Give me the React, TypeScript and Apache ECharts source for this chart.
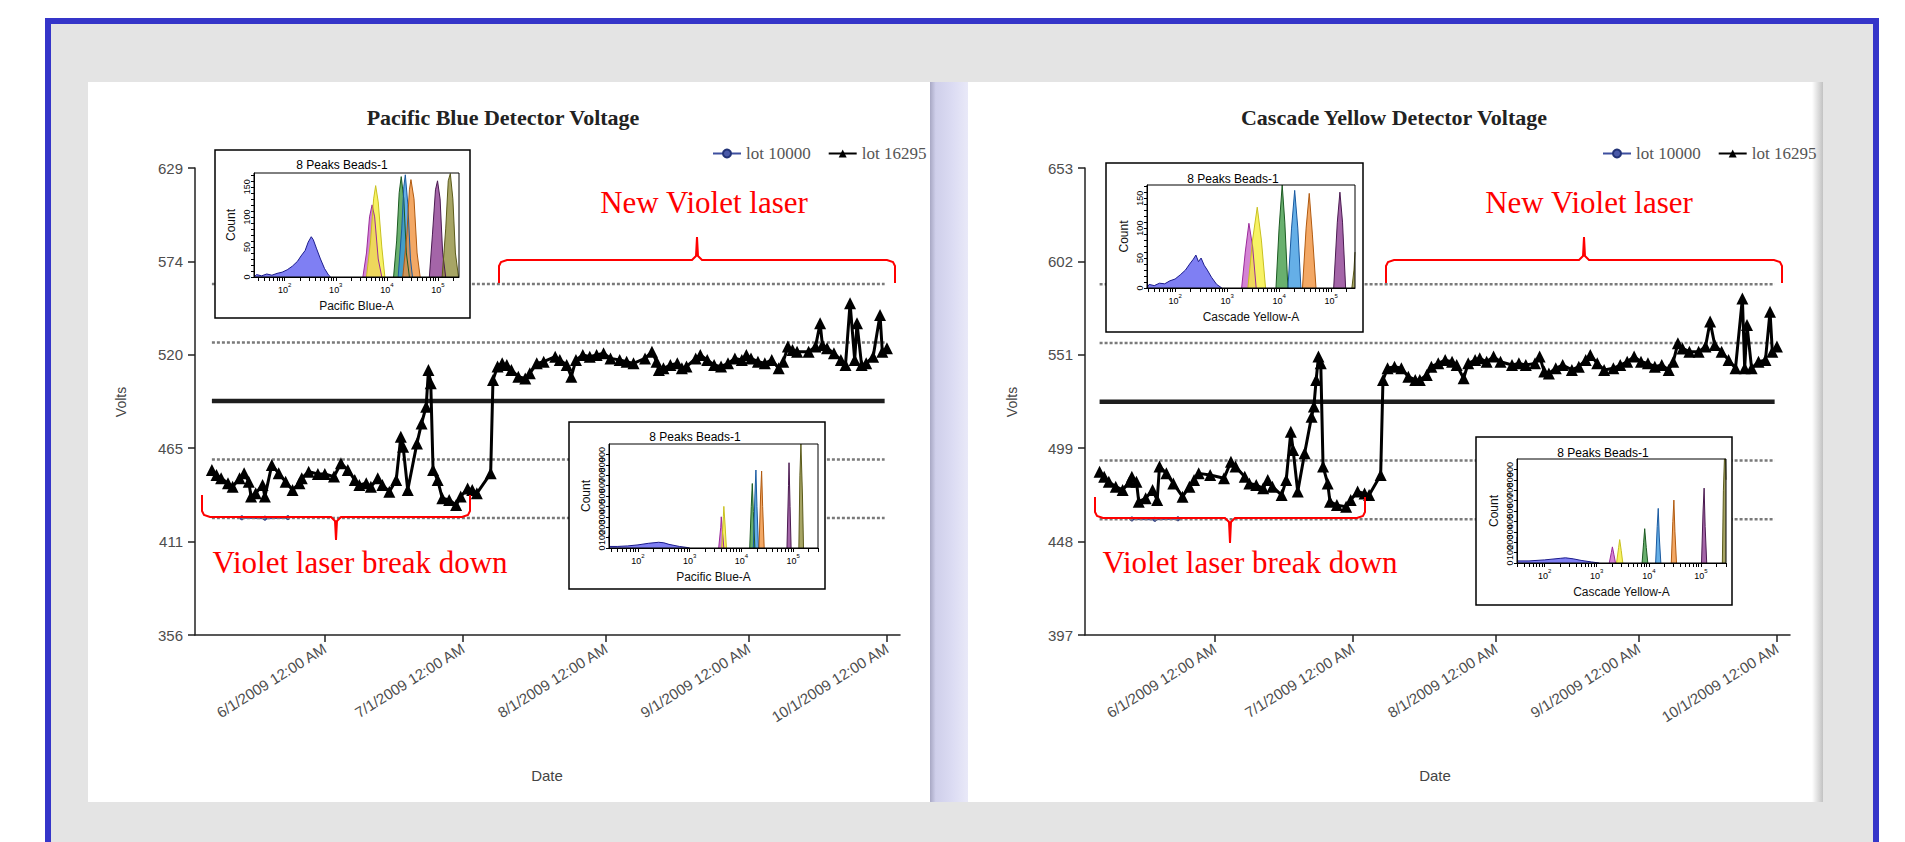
import React, { useEffect, useRef } from 'react';
import * as echarts from 'echarts';

// ---------- main series (dates are "MM-DD HH" in 2009) ----------
const pbDates = [
  '05-07 12', '05-08 12', '05-09 12', '05-11 00', '05-12 00', '05-13 12', '05-14 12', '05-15 12', '05-16 00', '05-17 00',
  '05-18 12', '05-19 00', '05-20 12', '05-22 00', '05-23 12', '05-25 00', '05-26 12', '05-27 00', '05-28 12', '05-30 12',
  '06-01 00', '06-03 00', '06-04 12', '06-06 00', '06-07 12', '06-08 12', '06-10 00', '06-11 00', '06-12 12', '06-13 12',
  '06-15 00', '06-16 12', '06-17 12', '06-18 00', '06-19 00', '06-21 00', '06-22 00', '06-23 00', '06-23 12', '06-24 00',
  '06-24 12', '06-25 12', '06-26 12', '06-28 00', '06-29 12', '06-30 12', '07-02 00', '07-03 00', '07-04 00', '07-07 00',
  '07-07 12', '07-08 12', '07-09 12', '07-10 12', '07-11 12', '07-13 00', '07-14 12', '07-15 12', '07-17 00', '07-18 12',
  '07-21 00', '07-22 00', '07-23 12', '07-24 12', '07-25 12', '07-27 00', '07-28 12', '07-30 00', '07-31 12', '08-02 00',
  '08-04 00', '08-05 12', '08-07 00', '08-09 12', '08-11 00', '08-12 00', '08-12 12', '08-13 12', '08-15 00', '08-16 12',
  '08-17 12', '08-18 12', '08-20 12', '08-21 12', '08-23 00', '08-24 12', '08-26 00', '08-27 12', '08-29 00', '08-30 12',
  '08-31 12', '09-01 12', '09-03 00', '09-04 12', '09-06 00', '09-07 12', '09-08 12', '09-09 12', '09-10 12', '09-11 12',
  '09-14 00', '09-15 12', '09-16 12', '09-17 00', '09-18 00', '09-19 12', '09-21 00', '09-22 00', '09-23 00', '09-24 00',
  '09-24 12', '09-25 12', '09-26 12', '09-28 00', '09-29 12', '09-30 00', '10-01 00',
];
const pbVolts = [
  452.5, 449.5, 447.6, 444.7, 442.7, 447.6, 450.5, 445.6, 436.9, 438.8,
  443.7, 436.9, 455.4, 450.5, 445.6, 440.8, 444.7, 447.6, 451.5, 450.1,
  450.1, 448.6, 456.4, 452.5, 446.6, 443.7, 444.7, 442.7, 447.6, 443.7,
  439.8, 446.6, 471.9, 466.1, 440.8, 468.0, 479.7, 489.5, 510.9, 503.1,
  452.5, 446.6, 435.9, 434.9, 432.0, 436.9, 441.7, 440.8, 438.8, 450.5,
  505.1, 512.9, 514.8, 513.8, 510.9, 507.0, 506.0, 509.0, 514.8, 515.8,
  518.7, 516.8, 513.8, 507.0, 516.8, 519.7, 518.7, 519.7, 520.7, 517.7,
  516.8, 515.8, 514.8, 517.7, 521.6, 515.8, 510.9, 511.9, 513.8, 514.8,
  511.9, 512.9, 517.7, 519.7, 516.8, 513.8, 512.9, 514.8, 517.7, 516.8,
  519.7, 517.7, 515.8, 514.8, 516.8, 511.9, 515.8, 524.6, 522.6, 521.6,
  521.6, 524.6, 538.2, 525.5, 523.6, 520.7, 516.8, 513.8, 549.9, 516.8,
  538.2, 513.8, 514.8, 518.7, 543.1, 521.6, 523.6,
];
const cyDates = [
  '05-07 00', '05-08 00', '05-09 00', '05-10 12', '05-12 00', '05-13 12', '05-14 00', '05-15 00', '05-15 12', '05-17 00',
  '05-18 12', '05-19 12', '05-20 00', '05-21 12', '05-23 00', '05-25 00', '05-26 12', '05-27 12', '05-28 12', '05-31 00',
  '06-03 00', '06-04 12', '06-05 12', '06-07 12', '06-08 12', '06-10 00', '06-11 12', '06-12 12', '06-13 12', '06-15 12',
  '06-16 12', '06-17 12', '06-18 00', '06-19 00', '06-20 12', '06-22 00', '06-22 12', '06-23 00', '06-23 12', '06-24 00',
  '06-24 12', '06-25 12', '06-26 00', '06-27 12', '06-29 12', '06-30 12', '07-02 00', '07-03 12', '07-04 12', '07-07 00',
  '07-07 12', '07-08 12', '07-10 00', '07-11 12', '07-13 00', '07-14 12', '07-15 12', '07-17 00', '07-18 00', '07-19 12',
  '07-21 00', '07-22 12', '07-23 12', '07-25 00', '07-26 00', '07-27 12', '07-28 12', '07-30 00', '07-31 12', '08-02 00',
  '08-04 12', '08-06 00', '08-07 12', '08-09 12', '08-10 12', '08-11 12', '08-12 12', '08-14 00', '08-15 12', '08-17 12',
  '08-19 00', '08-20 12', '08-21 12', '08-23 00', '08-24 12', '08-26 12', '08-28 00', '08-29 12', '08-31 00', '09-01 12',
  '09-03 00', '09-04 12', '09-06 00', '09-07 12', '09-08 12', '09-09 12', '09-10 12', '09-12 00', '09-14 00', '09-15 12',
  '09-16 12', '09-17 12', '09-19 00', '09-20 12', '09-22 00', '09-23 12', '09-24 00', '09-24 12', '09-25 12', '09-27 00',
  '09-28 12', '09-29 12', '09-30 00', '10-01 00',
];
const cyVolts = [
  486.5, 483.8, 481.0, 478.3, 476.5, 481.0, 483.8, 481.0, 470.1, 471.9,
  476.5, 471.0, 489.3, 485.6, 480.1, 472.8, 478.3, 481.9, 485.6, 484.7,
  482.9, 492.0, 489.3, 483.8, 480.1, 479.2, 477.4, 481.9, 478.3, 473.7,
  481.9, 508.4, 498.4, 475.6, 496.6, 516.7, 522.2, 536.8, 549.6, 545.9,
  489.3, 480.1, 470.1, 468.2, 467.3, 471.0, 475.6, 474.6, 473.7, 484.7,
  536.8, 543.2, 544.1, 543.2, 538.6, 536.8, 536.8, 539.5, 544.1, 545.9,
  547.7, 546.8, 545.0, 537.7, 545.9, 547.7, 548.7, 546.8, 549.6, 546.8,
  545.0, 545.9, 545.0, 545.9, 549.6, 541.4, 540.4, 543.2, 545.0, 542.3,
  544.1, 547.7, 550.5, 545.9, 542.3, 543.2, 545.0, 546.8, 549.6, 546.8,
  545.9, 544.1, 545.0, 542.3, 546.8, 556.9, 554.1, 552.3, 552.3, 555.1,
  568.8, 556.0, 552.3, 547.7, 543.2, 581.5, 543.2, 566.9, 543.2, 546.8,
  547.7, 574.2, 552.3, 555.1,
];
const lot10000Dates = ['05-14 00', '05-19 00', '05-24 00'];
const pbLot10000Volts = [424.5, 424.3, 424.6];
const cyLot10000Volts = [460.6, 460.4, 460.7];

// control limits (mean and +/-1, +/-2 SD)
const pbMean = 492.8;
const pbLimits = [424.4, 458.6, 527.0, 561.2];
const cyMean = 524.9;
const cyLimits = [460.5, 492.7, 557.1, 589.3];
const limitSpan = { pb: ['05-07 12', '09-30 12'], cy: ['05-07 00', '09-30 12'] };

// axes
const pbYTicks = [356, 410.6, 465.2, 519.8, 574.4, 629];
const cyYTicks = [397, 448.2, 499.4, 550.6, 601.8, 653];
const monthTicks = ['06-01 00', '07-01 00', '08-01 00', '09-01 00', '10-01 00'];
const axisStart = '05-03 20';
const axisEnd = '10-03 20';

// ---------- inset histograms: [log10(intensity), count] ----------
const peakFill = ['#5b5bf0', '#c860c8', '#f5ee3a', '#3f9a45', '#3a98e0', '#f0903a', '#8b3a8f', '#8e8c3a'];
const peakLine = ['#1c1c8c', '#9a2a9a', '#c8c020', '#1c5a22', '#1a5aa0', '#b05a10', '#4a1a50', '#5a5a1a'];

const pbTopPeaks: number[][][] = [
  [[1.4, 0], [1.45, 4], [1.55, 2], [1.65, 5], [1.75, 3], [1.85, 6], [1.95, 8], [2.05, 12], [2.15, 18], [2.25, 26], [2.32, 35], [2.4, 44], [2.46, 58], [2.52, 67], [2.56, 62], [2.62, 48], [2.7, 30], [2.78, 14], [2.86, 3], [2.9, 0]],
  [[3.53, 0], [3.6, 40], [3.66, 100], [3.71, 120], [3.76, 100], [3.83, 30], [3.9, 0]],
  [[3.6, 0], [3.68, 60], [3.74, 130], [3.78, 152], [3.83, 125], [3.9, 50], [3.96, 0]],
  [[4.13, 0], [4.19, 60], [4.24, 140], [4.28, 167], [4.33, 130], [4.38, 40], [4.44, 0]],
  [[4.22, 0], [4.29, 80], [4.33, 150], [4.36, 170], [4.41, 120], [4.46, 30], [4.5, 0]],
  [[4.31, 0], [4.39, 70], [4.44, 145], [4.47, 162], [4.53, 130], [4.59, 40], [4.65, 0]],
  [[4.83, 0], [4.89, 70], [4.95, 145], [4.99, 160], [5.04, 130], [5.09, 40], [5.15, 0]],
  [[5.08, 0], [5.15, 80], [5.2, 160], [5.24, 172], [5.29, 130], [5.34, 40], [5.4, 0]],
];
const pbBottomPeaks: number[][][] = [
  [[1.44, 120], [1.45, 15], [1.6, 15], [1.8, 20], [2.0, 30], [2.2, 45], [2.4, 55], [2.5, 50], [2.6, 35], [2.8, 15], [2.95, 5], [3.0, 0]],
  [[3.56, 0], [3.6, 200], [3.61, 300], [3.63, 180], [3.66, 0]],
  [[3.62, 0], [3.65, 300], [3.66, 400], [3.68, 250], [3.71, 0]],
  [[4.16, 0], [4.19, 400], [4.21, 620], [4.23, 350], [4.26, 0]],
  [[4.23, 0], [4.26, 500], [4.28, 750], [4.3, 400], [4.33, 0]],
  [[4.34, 0], [4.37, 500], [4.39, 740], [4.41, 400], [4.44, 0]],
  [[4.88, 0], [4.91, 600], [4.92, 820], [4.94, 400], [4.96, 0]],
  [[5.11, 0], [5.13, 700], [5.15, 1000], [5.16, 1000], [5.18, 500], [5.2, 0]],
];
const cyTopPeaks: number[][][] = [
  [[1.46, 0], [1.5, 6], [1.6, 4], [1.7, 8], [1.8, 7], [1.9, 12], [2.0, 15], [2.1, 22], [2.2, 30], [2.28, 40], [2.35, 48], [2.4, 55], [2.45, 44], [2.5, 50], [2.56, 38], [2.62, 30], [2.7, 18], [2.8, 6], [2.9, 0]],
  [[3.28, 0], [3.35, 60], [3.42, 108], [3.49, 70], [3.56, 0]],
  [[3.4, 0], [3.49, 80], [3.58, 135], [3.66, 80], [3.74, 0]],
  [[3.94, 0], [4.0, 100], [4.06, 172], [4.11, 110], [4.17, 0]],
  [[4.17, 0], [4.24, 100], [4.3, 163], [4.36, 100], [4.42, 0]],
  [[4.45, 0], [4.52, 100], [4.58, 158], [4.64, 90], [4.71, 0]],
  [[5.05, 0], [5.12, 110], [5.17, 160], [5.22, 110], [5.28, 0]],
  [[5.4, 0], [5.44, 30], [5.46, 60]],
];
const cyBottomPeaks: number[][][] = [
  [[1.47, 250], [1.48, 20], [1.7, 20], [2.0, 30], [2.3, 45], [2.4, 50], [2.55, 40], [2.7, 25], [2.9, 10], [3.05, 0]],
  [[3.24, 0], [3.28, 100], [3.3, 155], [3.33, 80], [3.36, 0]],
  [[3.38, 0], [3.42, 150], [3.44, 225], [3.47, 120], [3.5, 0]],
  [[3.87, 0], [3.9, 200], [3.92, 330], [3.95, 150], [3.98, 0]],
  [[4.13, 0], [4.16, 350], [4.18, 525], [4.2, 250], [4.23, 0]],
  [[4.43, 0], [4.46, 400], [4.48, 605], [4.5, 300], [4.53, 0]],
  [[5.01, 0], [5.04, 500], [5.06, 720], [5.08, 350], [5.11, 0]],
  [[5.41, 0], [5.43, 700], [5.45, 1000], [5.47, 1000], [5.48, 800]],
];
const countTicksSmall = [0, 10, 20, 30, 40, 50, 60, 70, 80, 90, 100, 110, 120, 130, 140, 150, 160, 170];
const countLabelsSmall = [0, 50, 100, 150];
const countLabelsLarge = [0, 100, 200, 300, 400, 500, 600, 700, 800, 900, 1000];

// ---------- helpers ----------
const ts = (s: string) => {
  const [md, h] = s.split(' ');
  const [m, d] = md.split('-').map(Number);
  return new Date(2009, m - 1, d, Number(h)).getTime();
};
const logTicks = (min: number, max: number) => {
  const out: number[] = [];
  for (let e = 1; e <= 5; e++) for (let k = 1; k <= 9; k++) {
    const v = e + Math.log10(k);
    if (v >= min && v <= max) out.push(v);
  }
  return out;
};
const SANS = 'Liberation Sans, Arial, sans-serif';
const SERIF = 'Liberation Serif, Times New Roman, serif';

function buildOption() {
  const G = echarts.graphic;
  const monthTs = monthTicks.map(ts);

  const mainX = (gi: number) => ({
    gridIndex: gi, type: 'value', min: ts(axisStart), max: ts(axisEnd),
    axisLine: { show: true, onZero: false, lineStyle: { color: '#222', width: 1.5 } },
    axisTick: { show: true, length: 7, customValues: monthTs, lineStyle: { color: '#222', width: 1.5 } },
    axisLabel: {
      customValues: monthTs, rotate: 32, margin: 12, fontSize: 15, color: '#4d4d4d', fontFamily: SANS,
      formatter: (v: number) => { const d = new Date(v); return `${d.getMonth() + 1}/${d.getDate()}/${d.getFullYear()} 12:00 AM`; },
    },
    splitLine: { show: false },
  });
  const mainY = (gi: number, ticks: number[]) => ({
    gridIndex: gi, type: 'value', min: ticks[0], max: ticks[ticks.length - 1],
    axisLine: { show: true, onZero: false, lineStyle: { color: '#222', width: 1.5 } },
    axisTick: { show: true, length: 7, customValues: ticks, lineStyle: { color: '#222', width: 1.5 } },
    axisLabel: { customValues: ticks, margin: 12, fontSize: 15, color: '#4d4d4d', fontFamily: SANS, formatter: (v: number) => String(Math.round(v)) },
    splitLine: { show: false },
  });
  const insetX = (gi: number, min: number, max: number, name: string) => ({
    gridIndex: gi, type: 'value', min, max, z: 12,
    axisLine: { show: true, onZero: false, lineStyle: { color: '#000', width: 1 } },
    axisTick: { show: true, length: 4, customValues: logTicks(min, max), lineStyle: { color: '#000', width: 1 } },
    axisLabel: {
      customValues: [2, 3, 4, 5], margin: 5, color: '#000',
      formatter: (v: number) => `{b|10}{s|${Math.round(v)}}`,
      rich: {
        b: { fontSize: 9, fontFamily: SANS, color: '#000', verticalAlign: 'bottom' },
        s: { fontSize: 6, fontFamily: SANS, color: '#000', verticalAlign: 'bottom', padding: [0, 0, 6, 0] },
      },
    },
    splitLine: { show: false },
    name, nameLocation: 'middle', nameGap: 23, nameTextStyle: { fontSize: 12, color: '#111', fontFamily: SANS },
  });
  const insetY = (gi: number, max: number, ticks: number[], labels: number[]) => ({
    gridIndex: gi, type: 'value', min: 0, max, z: 12,
    axisLine: { show: true, onZero: false, lineStyle: { color: '#000', width: 1 } },
    axisTick: { show: true, length: 3, customValues: ticks, lineStyle: { color: '#000', width: 1 } },
    axisLabel: { customValues: labels, rotate: 90, fontSize: 9, margin: 3, color: '#000', fontFamily: SANS },
    splitLine: { show: false },
    name: 'Count', nameLocation: 'middle', nameGap: 17, nameRotate: 90, nameTextStyle: { fontSize: 12, color: '#111', fontFamily: SANS },
  });

  const limitSeries = (gi: number, span: string[], values: number[], mean: number) => [
    ...values.map((v) => ({
      type: 'line', xAxisIndex: gi, yAxisIndex: gi, silent: true, symbol: 'none', z: 2,
      data: [[ts(span[0]), v], [ts(span[1]), v]],
      lineStyle: { color: '#7a7a7a', width: 2.5, type: [3, 2] },
    })),
    {
      type: 'line', xAxisIndex: gi, yAxisIndex: gi, silent: true, symbol: 'none', z: 2,
      data: [[ts(span[0]), mean], [ts(span[1]), mean]],
      lineStyle: { color: '#1e1e1e', width: 4.5 },
    },
  ];
  const dataSeries = (gi: number, dates: string[], volts: number[], lotVolts: number[]) => [
    {
      name: 'lot 10000', type: 'line', xAxisIndex: gi, yAxisIndex: gi, z: 1,
      data: lot10000Dates.map((d, i) => [ts(d), lotVolts[i]]),
      symbol: 'circle', symbolSize: 4, showSymbol: true,
      itemStyle: { color: '#4a5aa8', borderColor: '#223377', borderWidth: 1 },
      lineStyle: { color: '#3d4f9f', width: 2 },
    },
    {
      name: 'lot 16295', type: 'line', xAxisIndex: gi, yAxisIndex: gi, z: 4,
      data: dates.map((d, i) => [ts(d), volts[i]]),
      symbol: 'triangle', symbolSize: 12, showSymbol: true,
      itemStyle: { color: '#000' },
      lineStyle: { color: '#000', width: 3 },
    },
  ];
  const histSeries = (gi: number, peaks: number[][][]) => peaks.map((pts, k) => ({
    type: 'line', xAxisIndex: gi, yAxisIndex: gi, silent: true, symbol: 'none', z: 8,
    data: pts,
    lineStyle: { color: peakLine[k], width: 1 },
    areaStyle: { color: peakFill[k], opacity: 0.78 },
  }));

  const text = (t: string, x: number, y: number, font: string, fill: string, z = 3, rotation = 0) => ({
    type: 'text', x, y, z, rotation,
    style: { text: t, font, fill, textAlign: 'center', textVerticalAlign: 'middle', align: 'center', verticalAlign: 'middle' },
  });
  // curly brace: ends bend towards endY, centre tip points to tipY
  const brace = (x1: number, x2: number, y: number, endY: number, tipX: number, tipY: number) => {
    const e = endY > y ? 1 : -1;
    const t = tipY > y ? 1 : -1;
    return {
      type: 'polyline', z: 6,
      shape: {
        points: [
          [x1, endY], [x1, y + 6 * e], [x1 + 2, y + 2 * e], [x1 + 8, y], [tipX - 5, y], [tipX - 1, y + 4 * t], [tipX, tipY],
          [tipX + 1, y + 4 * t], [tipX + 5, y], [x2 - 8, y], [x2 - 2, y + 2 * e], [x2, y + 6 * e], [x2, endY],
        ],
      },
      style: { stroke: '#ff0000', lineWidth: 2, fill: null },
    };
  };
  const insetBox = (x: number, y: number, w: number, h: number) => ({
    type: 'rect', z: 5, shape: { x, y, width: w, height: h }, style: { fill: '#fff', stroke: '#000', lineWidth: 1.5 },
  });

  const elements: any[] = [
    { type: 'rect', z: -20, shape: { x: 51, y: 24, width: 1822, height: 830 }, style: { fill: '#e4e4e4' } },
    { type: 'rect', z: -19, shape: { x: 48, y: 21, width: 1828, height: 900 }, style: { fill: 'none', stroke: '#3535c9', lineWidth: 6 } },
    { type: 'rect', z: -18, shape: { x: 88, y: 82, width: 842, height: 720 }, style: { fill: '#fff' } },
    {
      type: 'rect', z: -18, shape: { x: 930, y: 82, width: 38, height: 720 },
      style: { fill: new G.LinearGradient(0, 0, 1, 0, [
        { offset: 0, color: '#a8a8c4' }, { offset: 0.15, color: '#cfcfea' }, { offset: 0.6, color: '#dcdcf3' }, { offset: 1, color: '#e9e9f8' },
      ]) },
    },
    { type: 'rect', z: -18, shape: { x: 968, y: 82, width: 855, height: 720 }, style: { fill: '#fff' } },
    {
      type: 'rect', z: -17, shape: { x: 1812, y: 82, width: 11, height: 720 },
      style: { fill: new G.LinearGradient(0, 0, 1, 0, [{ offset: 0, color: '#ffffff' }, { offset: 1, color: '#c2c2c2' }]) },
    },
    // titles
    text('Pacific Blue Detector Voltage', 503, 117, 'bold 22px ' + SERIF, '#222'),
    text('Cascade Yellow Detector Voltage', 1394, 117, 'bold 22px ' + SERIF, '#222'),
    text('Volts', 121, 402, '14px ' + SANS, '#444', 3, Math.PI / 2),
    text('Volts', 1012, 402, '14px ' + SANS, '#444', 3, Math.PI / 2),
    text('Date', 547, 775, '15px ' + SANS, '#444'),
    text('Date', 1435, 775, '15px ' + SANS, '#444'),
    // inset boxes
    insetBox(215, 150, 255, 168),
    insetBox(569, 422, 256, 167),
    insetBox(1106, 163, 257, 169),
    insetBox(1476, 437, 256, 168),
    text('8 Peaks Beads-1', 342, 165, '12px ' + SANS, '#000', 11),
    text('8 Peaks Beads-1', 695, 437, '12px ' + SANS, '#000', 11),
    text('8 Peaks Beads-1', 1233, 179, '12px ' + SANS, '#000', 11),
    text('8 Peaks Beads-1', 1603, 453, '12px ' + SANS, '#000', 11),
    // annotations
    text('New Violet laser', 704, 202, '31px ' + SERIF, '#ff0000', 6),
    text('New Violet laser', 1589, 202, '31px ' + SERIF, '#ff0000', 6),
    text('Violet laser break down', 360, 562, '31px ' + SERIF, '#ff0000', 6),
    text('Violet laser break down', 1250, 562, '31px ' + SERIF, '#ff0000', 6),
    brace(499, 895, 260, 283, 697, 237),
    brace(1386, 1782, 260, 283, 1584, 237),
    brace(202, 470, 517, 495, 336, 540),
    brace(1095, 1365, 518, 497, 1230, 543),
  ];

  const legendBase = {
    data: ['lot 10000', 'lot 16295'], top: 140, itemWidth: 28, itemHeight: 10, itemGap: 17, selectedMode: false,
    textStyle: { fontFamily: SERIF, fontSize: 17, color: '#555' },
  };
  const insetGrid = (left: number, top: number, width: number, height: number) => ({
    left, top, width, height, show: true, borderColor: '#000', borderWidth: 1, backgroundColor: 'transparent', z: 10,
  });

  return {
    animation: false,
    graphic: { elements },
    legend: [{ ...legendBase, left: 707 }, { ...legendBase, left: 1597 }],
    grid: [
      { left: 195, top: 168, width: 705, height: 467 },
      { left: 1085, top: 168, width: 705, height: 467 },
      insetGrid(254, 173, 205, 104),
      insetGrid(609, 444, 209, 104),
      insetGrid(1147, 185, 208, 103),
      insetGrid(1517, 459, 209, 104),
    ],
    xAxis: [
      mainX(0), mainX(1),
      insetX(2, 1.4, 5.41, 'Pacific Blue-A'),
      insetX(3, 1.44, 5.48, 'Pacific Blue-A'),
      insetX(4, 1.46, 5.46, 'Cascade Yellow-A'),
      insetX(5, 1.47, 5.48, 'Cascade Yellow-A'),
    ],
    yAxis: [
      mainY(0, pbYTicks), mainY(1, cyYTicks),
      insetY(2, 173, countTicksSmall, countLabelsSmall),
      insetY(3, 1000, countLabelsLarge, countLabelsLarge),
      insetY(4, 172, countTicksSmall, countLabelsSmall),
      insetY(5, 1000, countLabelsLarge, countLabelsLarge),
    ],
    series: [
      ...limitSeries(0, limitSpan.pb, pbLimits, pbMean),
      ...limitSeries(1, limitSpan.cy, cyLimits, cyMean),
      ...dataSeries(0, pbDates, pbVolts, pbLot10000Volts),
      ...dataSeries(1, cyDates, cyVolts, cyLot10000Volts),
      ...histSeries(2, pbTopPeaks),
      ...histSeries(3, pbBottomPeaks),
      ...histSeries(4, cyTopPeaks),
      ...histSeries(5, cyBottomPeaks),
    ],
  };
}

export default function App() {
  const ref = useRef<HTMLDivElement>(null);
  useEffect(() => {
    if (!ref.current) return;
    const chart = echarts.init(ref.current, null, { renderer: 'svg' });
    chart.setOption(buildOption() as any);
    return () => chart.dispose();
  }, []);
  return <div ref={ref} style={{ position: 'absolute', left: 0, top: 0, width: 1905, height: 842 }} />;
}
